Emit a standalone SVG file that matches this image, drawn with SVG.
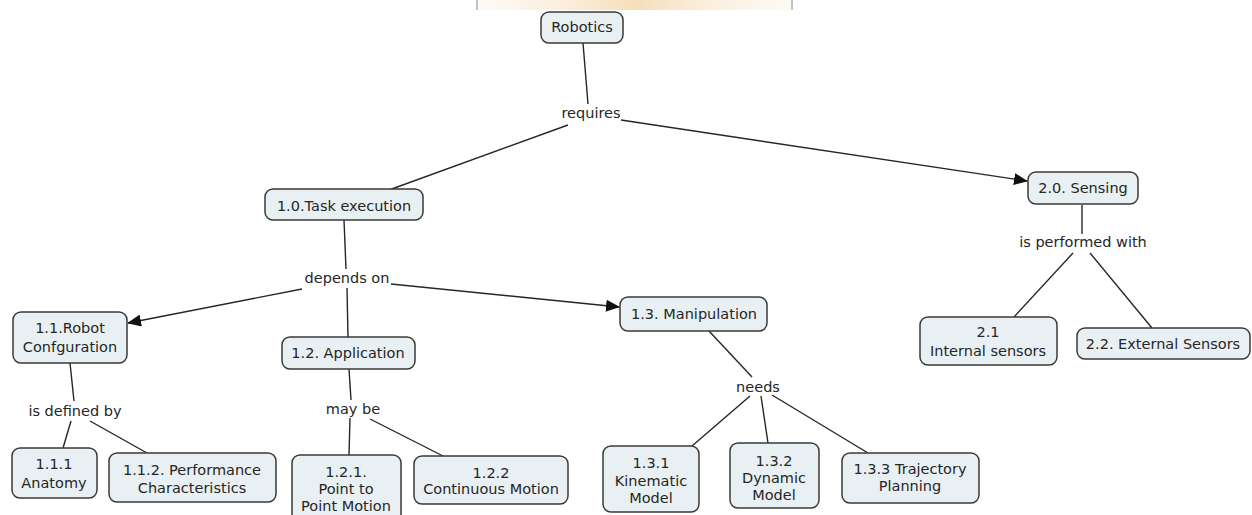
<svg xmlns="http://www.w3.org/2000/svg" width="1252" height="515" viewBox="0 0 1252 515">
<style>
.n rect{fill:#e9f0f3;stroke:#3a3a3a;stroke-width:1.5}
text{font-family:"DejaVu Sans",Verdana,sans-serif;font-size:14.5px;fill:#262626;text-anchor:middle}
.c line{stroke:#262626;stroke-width:1.4}
</style>
<defs>
<marker id="ah" markerUnits="userSpaceOnUse" markerWidth="14" markerHeight="12" refX="13" refY="6" orient="auto">
<path d="M0,0 L14,6 L0,12 Z" fill="#111"/>
</marker>
<linearGradient id="wm" x1="0" y1="0" x2="1" y2="0">
<stop offset="0" stop-color="#fbeede" stop-opacity="0.3"/>
<stop offset="0.5" stop-color="#f5d6a8" stop-opacity="0.8"/>
<stop offset="1" stop-color="#fbeede" stop-opacity="0.3"/>
</linearGradient>
</defs>
<rect width="1252" height="515" fill="#fff"/>
<g id="watermark">
<rect x="478" y="0" width="313" height="10" fill="url(#wm)"/>
<line x1="477" y1="0" x2="477" y2="10" stroke="#999" stroke-width="1.2"/>
<line x1="792" y1="0" x2="792" y2="10" stroke="#999" stroke-width="1.2"/>
</g>
<g id="connectors" class="c">
<line x1="583" y1="43" x2="588" y2="104"/>
<line x1="568" y1="125" x2="389" y2="190"/>
<line x1="621" y1="120" x2="1027" y2="181" marker-end="url(#ah)"/>
<line x1="344" y1="220" x2="346" y2="269"/>
<line x1="302" y1="289" x2="128" y2="323" marker-end="url(#ah)"/>
<line x1="347" y1="288" x2="348" y2="337"/>
<line x1="391" y1="284" x2="619" y2="307" marker-end="url(#ah)"/>
<line x1="1082" y1="205" x2="1082" y2="234"/>
<line x1="1073" y1="253" x2="1014" y2="317"/>
<line x1="1090" y1="253" x2="1152" y2="328"/>
<line x1="70" y1="363" x2="74" y2="401"/>
<line x1="71" y1="421" x2="63" y2="448"/>
<line x1="90" y1="421" x2="147" y2="453"/>
<line x1="349" y1="369" x2="351" y2="400"/>
<line x1="350" y1="418" x2="349" y2="455"/>
<line x1="370" y1="419" x2="443" y2="456"/>
<line x1="709" y1="331" x2="752" y2="377"/>
<line x1="750" y1="396" x2="692" y2="446"/>
<line x1="761" y1="396" x2="768" y2="443"/>
<line x1="772" y1="395" x2="868" y2="453"/>
</g>
<g id="labels">
<text x="591" y="118">requires</text>
<text x="347" y="283">depends on</text>
<text x="1083" y="247">is performed with</text>
<text x="75" y="416">is defined by</text>
<text x="353" y="414">may be</text>
<text x="758" y="392">needs</text>
</g>
<g id="robotics" class="n"><rect x="541" y="12" width="82" height="31" rx="8"/><text x="582" y="32">Robotics</text></g>
<g id="task" class="n"><rect x="265" y="189" width="158" height="31" rx="8"/><text x="344" y="211">1.0.Task execution</text></g>
<g id="sensing" class="n"><rect x="1028" y="172" width="110" height="32" rx="8"/><text x="1083" y="193">2.0. Sensing</text></g>
<g id="internal" class="n"><rect x="920" y="317" width="137" height="48" rx="8"/><text x="988" y="337">2.1</text><text x="988" y="356">Internal sensors</text></g>
<g id="external" class="n"><rect x="1077" y="328" width="173" height="31" rx="8"/><text x="1163" y="349">2.2. External Sensors</text></g>
<g id="robotconfig" class="n"><rect x="13" y="312" width="114" height="51" rx="8"/><text x="70" y="333">1.1.Robot</text><text x="70" y="352">Confguration</text></g>
<g id="anatomy" class="n"><rect x="12" y="448" width="85" height="50" rx="8"/><text x="54" y="469">1.1.1</text><text x="54" y="488">Anatomy</text></g>
<g id="performance" class="n"><rect x="109" y="453" width="167" height="49" rx="8"/><text x="192" y="475">1.1.2. Performance</text><text x="192" y="493">Characteristics</text></g>
<g id="application" class="n"><rect x="282" y="337" width="133" height="32" rx="8"/><text x="348" y="358">1.2. Application</text></g>
<g id="ptp" class="n"><rect x="292" y="455" width="109" height="70" rx="8"/><text x="346" y="477">1.2.1.</text><text x="346" y="494">Point to</text><text x="346" y="511">Point Motion</text></g>
<g id="continuous" class="n"><rect x="414" y="456" width="154" height="48" rx="8"/><text x="491" y="478">1.2.2</text><text x="491" y="494">Continuous Motion</text></g>
<g id="manipulation" class="n"><rect x="620" y="297" width="147" height="34" rx="8"/><text x="694" y="319">1.3. Manipulation</text></g>
<g id="kinematic" class="n"><rect x="603" y="446" width="96" height="66" rx="8"/><text x="651" y="468">1.3.1</text><text x="651" y="486">Kinematic</text><text x="651" y="503">Model</text></g>
<g id="dynamic" class="n"><rect x="730" y="443" width="89" height="65" rx="8"/><text x="774" y="466">1.3.2</text><text x="774" y="483">Dynamic</text><text x="774" y="500">Model</text></g>
<g id="trajectory" class="n"><rect x="842" y="453" width="137" height="50" rx="8"/><text x="910" y="474">1.3.3 Trajectory</text><text x="910" y="491">Planning</text></g>
</svg>
